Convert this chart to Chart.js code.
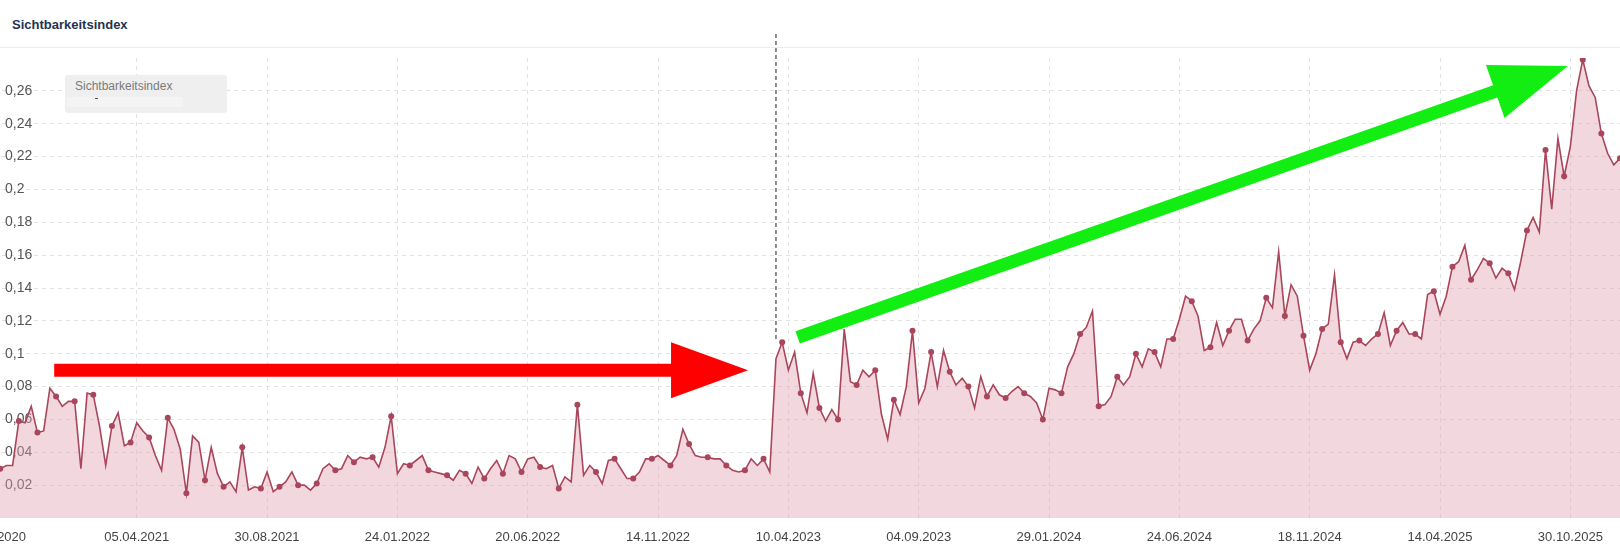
<!DOCTYPE html>
<html>
<head>
<meta charset="utf-8">
<script src="https://cdn.jsdelivr.net/npm/chart.js@4.4.1/dist/chart.umd.min.js"></script>
<style>
  html, body { margin: 0; padding: 0; width: 1620px; height: 550px; overflow: hidden; background: #fff; font-family: "Liberation Sans", Arial, sans-serif; }
  #title { position: absolute; left: 12px; top: 17px; font-weight: bold; font-size: 13px; color: #1f3352; }
  #sep { position: absolute; left: 0; top: 47px; width: 1620px; height: 1px; background: #ededed; }
  #wrap { position: absolute; left: -40px; top: 0; width: 1666px; height: 550px; }
  #legendBox { position: absolute; left: 65px; top: 75px; width: 162px; height: 38px; background: #efefef; border-radius: 3px; }
  #legendBox .name { position: absolute; left: 10px; top: 4px; font-size: 12px; color: #7a7a7a; }
  #legendBox .inner { position: absolute; left: 2px; top: 22px; width: 116px; height: 10px; background: #f4f4f4; }
  #legendBox .dot { position: absolute; left: 30px; top: 23px; width: 3px; height: 1px; background: #555; }
</style>
</head>
<body>
<div id="title">Sichtbarkeitsindex</div>
<div id="sep"></div>
<div id="wrap"><canvas id="chart"></canvas></div>
<div id="legendBox"><span class="name">Sichtbarkeitsindex</span><div class="inner"></div><div class="dot"></div></div>
<script>
// weekly visibility index values (index 0 = 09.11.2020)
const values = [
  0.031, 0.030, 0.032, 0.032, 0.059, 0.058, 0.068, 0.052, 0.053, 0.079,
  0.074, 0.068, 0.071, 0.071, 0.030, 0.076, 0.075, 0.056, 0.032, 0.056,
  0.064, 0.044, 0.046, 0.058, 0.053, 0.049, 0.038, 0.029, 0.061, 0.054,
  0.042, 0.015, 0.050, 0.046, 0.023, 0.043, 0.027, 0.019, 0.022, 0.016,
  0.043, 0.017, 0.019, 0.018, 0.028, 0.016, 0.019, 0.022, 0.028, 0.020,
  0.020, 0.017, 0.021, 0.030, 0.033, 0.029, 0.030, 0.038, 0.034, 0.037,
  0.036, 0.037, 0.031, 0.043, 0.062, 0.027, 0.033, 0.032, 0.035, 0.038,
  0.029, 0.028, 0.027, 0.026, 0.023, 0.029, 0.027, 0.021, 0.031, 0.024,
  0.030, 0.035, 0.027, 0.038, 0.036, 0.028, 0.036, 0.037, 0.031, 0.030,
  0.032, 0.018, 0.025, 0.022, 0.069, 0.026, 0.032, 0.028, 0.021, 0.035,
  0.036, 0.030, 0.024, 0.024, 0.028, 0.036, 0.036, 0.038, 0.035, 0.032,
  0.038, 0.054, 0.045, 0.038, 0.037, 0.037, 0.036, 0.036, 0.032, 0.029,
  0.028, 0.029, 0.036, 0.032, 0.036, 0.028, 0.097, 0.107, 0.090, 0.101,
  0.076, 0.064, 0.088, 0.067, 0.059, 0.066, 0.060, 0.115, 0.083, 0.081,
  0.090, 0.086, 0.090, 0.063, 0.048, 0.072, 0.063, 0.080, 0.114, 0.070,
  0.079, 0.101, 0.080, 0.102, 0.089, 0.081, 0.085, 0.080, 0.067, 0.086,
  0.074, 0.081, 0.075, 0.073, 0.077, 0.080, 0.076, 0.074, 0.070, 0.060,
  0.079, 0.078, 0.076, 0.092, 0.100, 0.112, 0.116, 0.126, 0.068, 0.069,
  0.074, 0.086, 0.081, 0.086, 0.100, 0.092, 0.103, 0.101, 0.092, 0.109,
  0.109, 0.121, 0.135, 0.132, 0.123, 0.102, 0.104, 0.119, 0.105, 0.114,
  0.121, 0.121, 0.108, 0.115, 0.120, 0.134, 0.128, 0.162, 0.123, 0.142,
  0.135, 0.111, 0.090, 0.100, 0.115, 0.118, 0.148, 0.107, 0.097, 0.107,
  0.108, 0.105, 0.109, 0.112, 0.125, 0.105, 0.114, 0.119, 0.112, 0.112,
  0.109, 0.136, 0.138, 0.124, 0.135, 0.153, 0.156, 0.166, 0.145, 0.151,
  0.158, 0.155, 0.146, 0.152, 0.149, 0.139, 0.156, 0.175, 0.183, 0.174,
  0.224, 0.188, 0.231, 0.208, 0.226, 0.260, 0.279, 0.263, 0.256, 0.234,
  0.222, 0.215, 0.219
];

// x axis labels and the week index they sit on
const tickIdx = [0, 23, 44, 65, 86, 107, 128, 149, 170, 191, 212, 233, 254];
const tickLabels = ['09.11.2020', '05.04.2021', '30.08.2021', '24.01.2022', '20.06.2022', '14.11.2022',
  '10.04.2023', '04.09.2023', '29.01.2024', '24.06.2024', '18.11.2024', '14.04.2025', '30.10.2025'];

const seriesName = 'Sichtbarkeitsindex';

// hand drawn annotations, in data coordinates [weekIndex, value]
const arrows = [
  { from: [9.7, 0.090], to: [121.5, 0.090], color: '#ff0000' },
  { from: [129.5, 0.110], to: [253.6, 0.2752], color: '#12ee12' }
];
const markerIdx = 126;
const markerValue = 0.109;

const lineColor = '#a9465c';

const annotations = {
  id: 'annotations',
  afterDatasetsDraw(chart) {
    const { ctx, scales: { x, y }, chartArea } = chart;
    ctx.save();

    // dashed marker line
    const mx = x.getPixelForValue(markerIdx);
    ctx.strokeStyle = '#444';
    ctx.lineWidth = 1.2;
    ctx.setLineDash([4, 3]);
    ctx.beginPath();
    ctx.moveTo(mx, chartArea.top - 24);
    ctx.lineTo(mx, y.getPixelForValue(markerValue));
    ctx.stroke();
    ctx.setLineDash([]);

    // arrows
    arrows.forEach(a => {
      const x0 = x.getPixelForValue(a.from[0]), y0 = y.getPixelForValue(a.from[1]);
      const x1 = x.getPixelForValue(a.to[0]), y1 = y.getPixelForValue(a.to[1]);
      const len = Math.hypot(x1 - x0, y1 - y0);
      const ang = Math.atan2(y1 - y0, x1 - x0);
      const shaft = 6.5, headLen = 77, headHalf = 28;
      ctx.translate(x0, y0);
      ctx.rotate(ang);
      ctx.fillStyle = a.color;
      ctx.beginPath();
      ctx.moveTo(0, -shaft);
      ctx.lineTo(len - headLen, -shaft);
      ctx.lineTo(len - headLen, -headHalf);
      ctx.lineTo(len, 0);
      ctx.lineTo(len - headLen, headHalf);
      ctx.lineTo(len - headLen, shaft);
      ctx.lineTo(0, shaft);
      ctx.closePath();
      ctx.fill();
      ctx.setTransform(1, 0, 0, 1, 0, 0);
    });
    ctx.restore();
  }
};

new Chart(document.getElementById('chart'), {
  type: 'line',
  data: {
    datasets: [{
      label: seriesName,
      data: values.map((v, i) => ({ x: i, y: v })),
      borderColor: lineColor,
      borderWidth: 1.6,
      backgroundColor: 'rgba(226, 160, 178, 0.42)',
      fill: 'origin',
      tension: 0,
      pointRadius: ctx => (ctx.dataIndex % 3 === 1 ? 3 : 0),
      pointBackgroundColor: lineColor,
      pointBorderWidth: 0
    }]
  },
  options: {
    responsive: true,
    maintainAspectRatio: false,
    animation: false,
    layout: { padding: { left: 34, right: 6, top: 58, bottom: 0 } },
    plugins: {
      legend: { display: false },
      tooltip: { enabled: false }
    },
    scales: {
      x: {
        type: 'linear',
        min: 0,
        max: values.length - 1,
        afterBuildTicks: s => { s.ticks = tickIdx.map(v => ({ value: v })); },
        afterFit: s => { s.height = 32; s.paddingLeft = 0; s.paddingRight = 0; },
        grid: { color: '#e2e2e2', drawTicks: false },
        border: { display: false, dash: [4, 4] },
        ticks: {
          autoSkip: false,
          maxRotation: 0,
          padding: 12,
          color: '#444',
          font: { family: '"Liberation Sans", Arial, sans-serif', size: 13 },
          callback: v => tickLabels[tickIdx.indexOf(v)] || ''
        }
      },
      y: {
        min: 0,
        max: 0.28,
        afterFit: s => { s.width = 0; },
        grid: {
          color: c => (c.tick.value === 0 || c.tick.value >= 0.28 ? 'rgba(0,0,0,0)' : '#e2e2e2'),
          drawTicks: false
        },
        border: { display: false, dash: [4, 4] },
        ticks: {
          stepSize: 0.02,
          mirror: true,
          padding: 11,
          color: '#555',
          font: { family: '"Liberation Sans", Arial, sans-serif', size: 14 },
          callback: v => (v === 0 || v >= 0.28 ? '' : String(+v.toFixed(2)).replace('.', ','))
        }
      }
    }
  },
  plugins: [annotations]
});
</script>
</body>
</html>
